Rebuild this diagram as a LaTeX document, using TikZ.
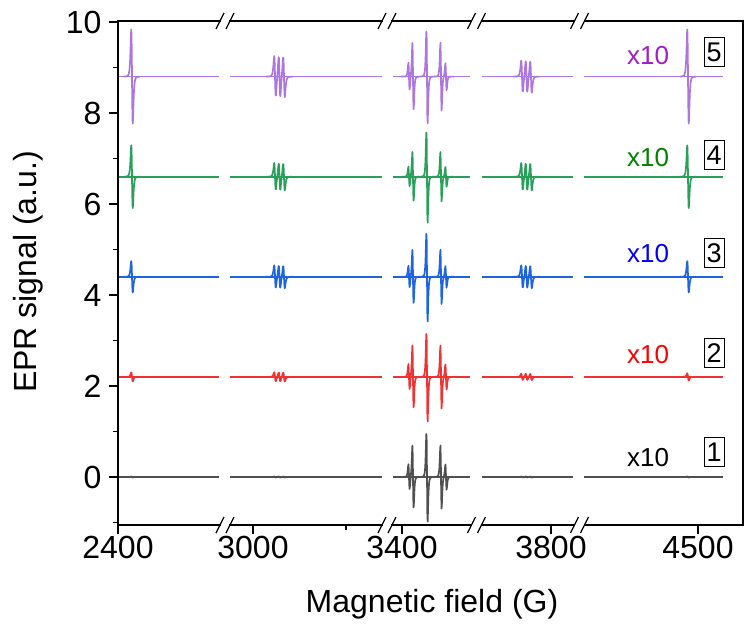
\documentclass[tikz,border=0pt]{standalone}
\usepackage{fontspec}
\setmainfont{Liberation Sans}
\usetikzlibrary{positioning}
\definecolor{lnpurple}{RGB}{172,118,224}
\definecolor{lngreen}{RGB}{40,160,90}
\definecolor{lnblue}{RGB}{30,100,225}
\definecolor{lnred}{RGB}{240,50,50}
\definecolor{lngray}{RGB}{80,80,80}
\definecolor{txpurple}{RGB}{160,30,200}
\definecolor{txgreen}{RGB}{0,130,0}
% derivative line, centre / amplitude / width
\newcommand\pk[3]{(-3.864*(#2)*((\x-#1)/#3)/(1+((\x-#1)/#3)^2)/(1+((\x-#1)/#3)^2)/(1+((\x-#1)/#3)^2))}
% one spectrum: colour, base, A1, A2, centre, side, A4, A5
\newcommand\trace[8]{%
  \draw[spec,#1] (118,477-45.5*#2) -- (219,477-45.5*#2) (230,477-45.5*#2) -- (382,477-45.5*#2)
    (393,477-45.5*#2) -- (470,477-45.5*#2) (482,477-45.5*#2) -- (573,477-45.5*#2)
    (584,477-45.5*#2) -- (723,477-45.5*#2);
  \draw[spec,#1] plot[domain=124:140,samples=50] (\x,{477-45.5*(#2+\pk{132}{#3}{1.6})});
  \draw[spec,#1] plot[domain=266:293,samples=80] (\x,{477-45.5*(#2+\pk{275}{#4}{1.7}+\pk{279.5}{#4}{1.7}+\pk{284}{#4}{1.7})});
  \draw[spec,#1] plot[domain=401:454,samples=150] (\x,{477-45.5*(#2+\pk{409}{0.4*#6}{1.3}+\pk{413}{#6}{1.3}+\pk{427}{#5}{1.3}+\pk{441}{#6}{1.3}+\pk{446}{0.4*#6}{1.3})});
  \draw[spec,#1] plot[domain=513:540,samples=80] (\x,{477-45.5*(#2+\pk{522}{#7}{1.7}+\pk{526.5}{#7}{1.7}+\pk{531}{#7}{1.7})});
  \draw[spec,#1] plot[domain=680:696,samples=50] (\x,{477-45.5*(#2+\pk{688}{#8}{1.6})});
}
\tikzset{
  spec/.style={line width=1.7pt,line join=round},
  axis/.style={line width=1.6pt},
  ticklab/.style={font=\fontsize{32}{34}\selectfont},
  gain/.style={font=\fontsize{26}{28}\selectfont},
  numbox/.style={draw,line width=0.7pt,inner xsep=2.5pt,inner ysep=5pt,font=\fontsize{27}{29}\selectfont}
}
\begin{document}
\begin{tikzpicture}[x=1pt,y=-1pt]
  \useasboundingbox (0,0) rectangle (747,631);
  % spectra
  \trace{lngray}{0}{0.01}{0.01}{1.0}{0.7}{0.01}{0.01}
  \trace{lnred}{2.2}{0.1}{0.1}{1.0}{0.7}{0.07}{0.08}
  \trace{lnblue}{4.4}{0.35}{0.25}{1.0}{0.6}{0.25}{0.35}
  \trace{lngreen}{6.6}{0.7}{0.3}{1.03}{0.55}{0.3}{0.7}
  \trace{lnpurple}{8.8}{1.05}{0.45}{1.05}{0.75}{0.35}{1.05}
  % frame with breaks
  \draw[axis] (118,21) -- (118,525);
  \draw[axis] (743,21) -- (743,525);
  \foreach \yy in {21,525}{
    \draw[axis] (117.2,\yy) -- (221,\yy) (229,\yy) -- (383,\yy)
      (391,\yy) -- (472,\yy) (481,\yy) -- (575,\yy) (584,\yy) -- (743.8,\yy);
    \foreach \bx in {225,387,476.5,579.5}{
      \draw[line width=1.3pt] (\bx-9,\yy+8) -- (\bx-1,\yy-8);
      \draw[line width=1.3pt] (\bx+1,\yy+8) -- (\bx+9,\yy-8);
    }
  }
  % y ticks
  \foreach \v in {0,2,...,10}{
    \draw[axis] (118,477-45.5*\v) -- (109,477-45.5*\v);
    \node[ticklab,anchor=east] (yl\v) at (105,477-45.5*\v) {\v};
  }
  \foreach \v in {-1,1,3,5,7,9}
    \draw[axis] (118,477-45.5*\v) -- (113,477-45.5*\v);
  % x ticks
  \foreach \px/\lab in {118/2400,253/3000,402/3400,551/3800,698/4500}{
    \draw[axis] (\px,525) -- (\px,534);
    \node[ticklab,anchor=north] (xl\lab) at (\px,533) {\lab};
  }
  \draw[axis] (346,525) -- (346,530);
  % titles
  \node[ticklab,font=\fontsize{32}{34}\selectfont] (xt) at (432,604) {Magnetic field (G)};
  \node[ticklab,font=\fontsize{32}{34}\selectfont,rotate=90] (yt) at (28,272) {EPR signal (a.u.)};
  % gains and labels
  \node[gain,text=txpurple] (g5) at (648,56) {x10};
  \node[gain,text=txgreen] (g4) at (648,158) {x10};
  \node[gain,text=blue] (g3) at (648,254) {x10};
  \node[gain,text=red] (g2) at (648,355) {x10};
  \node[gain,text=black] (g1) at (648,458) {x10};
  \node[numbox] (n5) at (714,52) {5};
  \node[numbox] (n4) at (714,155) {4};
  \node[numbox] (n3) at (714,253) {3};
  \node[numbox] (n2) at (714,353) {2};
  \node[numbox] (n1) at (714,452) {1};
\end{tikzpicture}
\end{document}
